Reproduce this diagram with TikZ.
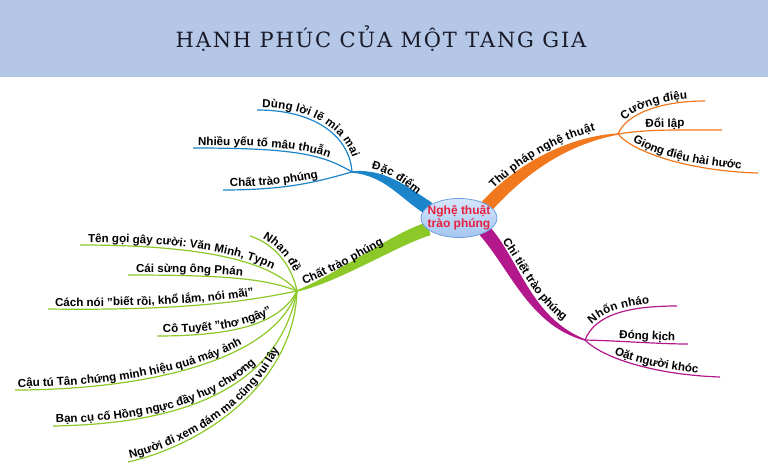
\documentclass[tikz,border=0pt]{standalone}
\usepackage{fontspec}
\setsansfont{Liberation Sans}
\newfontfamily\titlefont[LetterSpace=8.5]{DejaVu Serif}
\usetikzlibrary{calc,shapes.geometric,decorations.text}
\definecolor{barColor}{RGB}{180,199,231}
\definecolor{titleColor}{RGB}{25,25,40}
\definecolor{dacColor}{RGB}{28,132,200}
\definecolor{thuColor}{RGB}{242,120,30}
\definecolor{chatColor}{RGB}{140,200,40}
\definecolor{chiColor}{RGB}{178,24,140}
\definecolor{artTop}{RGB}{214,230,250}
\definecolor{artBottom}{RGB}{165,198,240}
\definecolor{artDraw}{RGB}{110,160,225}
\definecolor{artText}{RGB}{232,32,64}
\newcommand\leaffont{\sffamily\bfseries\fontsize{11.6}{14}\selectfont}

\begin{document}
\begin{tikzpicture}[
    x=1pt, y=-1pt,
    leaf/.style={line width=1.2pt},
    branch/.style={line width=1.4pt, line join=round},
    lbl/.style n args={3}{postaction={decorate, decoration={text along path,
        raise=#3, text align={left, left indent=#2}, text={|\leaffont|#1}}}},
    center/.style={ellipse, draw=artDraw, line width=0.8pt, top color=artTop,
        bottom color=artBottom, minimum width=76pt, minimum height=39pt, inner sep=0pt},
    center text/.style={align=center, inner sep=0pt, text=artText,
        font=\sffamily\bfseries\fontsize{12}{12.5}\selectfont}
]
    \useasboundingbox (0,0) rectangle (768,476);

    \node[fill=barColor, minimum width=768pt, minimum height=77pt, inner sep=0pt,
        anchor=north west] (bar) at (0,0) {};
    \node[anchor=base, text=titleColor, font=\titlefont\fontsize{21}{24}\selectfont] (title)
        at (381,48) {HẠNH PHÚC CỦA MỘT TANG GIA};

    \coordinate (dHub)  at (352,172);
    \coordinate (dBase) at (428,208);
    \coordinate (tHub)  at (618,134);
    \coordinate (tBase) at (486,207);
    \coordinate (cHub)  at (297,291);
    \coordinate (cBase) at (428,229);
    \coordinate (mHub)  at (585,340);
    \coordinate (mBase) at (484,230);

    \filldraw[branch, dacColor] (dHub) .. controls +(33,-3) and +(-25,-16) .. ($(dBase)+(3.2,-5)$)
        -- ($(dBase)+(-3.2,5)$) .. controls +(-25,-16) and +(33,3) .. (dHub) -- cycle;
    \filldraw[branch, thuColor] (tHub) .. controls +(-58,4) and +(29,-32) .. ($(tBase)+(-4.4,-4)$)
        -- ($(tBase)+(4.4,4)$) .. controls +(29,-32) and +(-58,11) .. (tHub) -- cycle;
    \filldraw[branch, chatColor] (cHub) .. controls +(43,-18) and +(-33,10) .. ($(cBase)+(-1.8,-5.7)$)
        -- ($(cBase)+(1.8,5.7)$) .. controls +(-33,10) and +(43,-10) .. (cHub) -- cycle;
    \filldraw[branch, chiColor] (mHub) .. controls +(-55,-22) and +(31,35) .. ($(mBase)+(4.4,-3.9)$)
        -- ($(mBase)+(-4.4,3.9)$) .. controls +(31,35) and +(-55,-15) .. (mHub) -- cycle;

    \path[lbl={Đặc điểm}{18pt}{5pt}] (dHub) .. controls +(33,-2) and +(-25,-16) .. (dBase);
    \path[lbl={Thủ pháp nghệ thuật}{18pt}{7pt}] (tBase) .. controls +(29,-32) and +(-58,7) .. (tHub);
    \path[lbl={Chất trào phúng}{9pt}{4pt}] (cHub) .. controls +(43,-14) and +(-33,10) .. (cBase);
    \path[lbl={Chi tiết trào phúng}{20pt}{7.5pt}] (mBase) .. controls +(31,35) and +(-55,-18) .. (mHub);

    \coordinate (dung)  at (257,110);
    \coordinate (nhieu) at (193,148);
    \coordinate (chat)  at (223,190);
    \draw[leaf, dacColor, lbl={Dùng lời lẽ mỉa mai}{5pt}{3pt}]
        (dung) .. controls +(63,0) and +(-2,-32) .. (dHub);
    \draw[leaf, dacColor, lbl={Nhiều yếu tố mâu thuẫn}{5pt}{3pt}]
        (nhieu) .. controls +(100,0) and +(-30,-18) .. (dHub);
    \draw[leaf, dacColor, lbl={Chất trào phúng}{7pt}{3pt}]
        (chat) .. controls +(70,0) and +(-30,8) .. (dHub);

    \coordinate (cuong) at (705,101);
    \coordinate (doi)   at (722,130);
    \coordinate (giong) at (758,173);
    \draw[leaf, thuColor, lbl={Cường điệu}{14pt}{3pt}]
        (tHub) .. controls +(8,-20) and +(-45,0) .. (cuong);
    \draw[leaf, thuColor, lbl={Đổi lập}{28pt}{3pt}]
        (tHub) .. controls +(30,-5) and +(-40,0) .. (doi);
    \draw[leaf, thuColor, lbl={Giọng điệu hài hước}{17pt}{3pt}]
        (tHub) .. controls +(15,18) and +(-70,-2) .. (giong);

    \coordinate (nhan)    at (250,236);
    \coordinate (tengoi)  at (80,245);
    \coordinate (caisung) at (128,275);
    \coordinate (cachnoi) at (48,309);
    \coordinate (cotuyet) at (157,336);
    \coordinate (cautu)   at (15,390);
    \coordinate (bancu)   at (53,426);
    \coordinate (nguoidi) at (128,462);
    \draw[leaf, chatColor, lbl={Nhan đề}{12pt}{3pt}]
        (nhan) .. controls +(25,8) and +(-5,-25) .. (cHub);
    \draw[leaf, chatColor, lbl={Tên gọi gây cười: Văn Minh, Typn}{8pt}{3pt}]
        (tengoi) .. controls +(130,0) and +(-25,-28) .. (cHub);
    \draw[leaf, chatColor, lbl={Cái sừng ông Phán}{8pt}{3pt}]
        (caisung) .. controls +(100,0) and +(-30,-12) .. (cHub);
    \draw[leaf, chatColor, lbl={Cách nói "biết rồi, khổ lắm, nói mãi"}{7pt}{3pt}]
        (cachnoi) .. controls +(150,2) and +(-40,8) .. (cHub);
    \draw[leaf, chatColor, lbl={Cô Tuyết "thơ ngây"}{6pt}{3pt}]
        (cotuyet) .. controls +(90,0) and +(-15,28) .. (cHub);
    \draw[leaf, chatColor, lbl={Cậu tú Tân chứng minh hiệu quả máy ảnh}{3pt}{3pt}]
        (cautu) .. controls +(115,0) and +(-25,75) .. (cHub);
    \draw[leaf, chatColor, lbl={Bạn cụ cố Hồng ngực đầy huy chương}{3pt}{3pt}]
        (bancu) .. controls +(127,-2) and +(-19,99) .. (cHub);
    \draw[leaf, chatColor, lbl={Người đi xem đám ma cũng vui lây}{3pt}{3pt}]
        (nguoidi) .. controls +(76,-17) and +(-3,92) .. (cHub);

    \coordinate (nhon) at (677,306);
    \coordinate (dong) at (688,344);
    \coordinate (oat)  at (720,377);
    \draw[leaf, chiColor, lbl={Nhốn nháo}{16pt}{3pt}]
        (mHub) .. controls +(10,-25) and +(-50,0) .. (nhon);
    \draw[leaf, chiColor, lbl={Đóng kịch}{34pt}{3pt}]
        (mHub) .. controls +(40,1) and +(-30,0) .. (dong);
    \draw[leaf, chiColor, lbl={Oặt người khóc}{33pt}{3pt}]
        (mHub) .. controls +(20,20) and +(-60,-2) .. (oat);

    \node[center] (art) at (459,218) {};
    \node[center text] (artLabel) at (art) {Nghệ thuật\\trào phúng};
\end{tikzpicture}
\end{document}
